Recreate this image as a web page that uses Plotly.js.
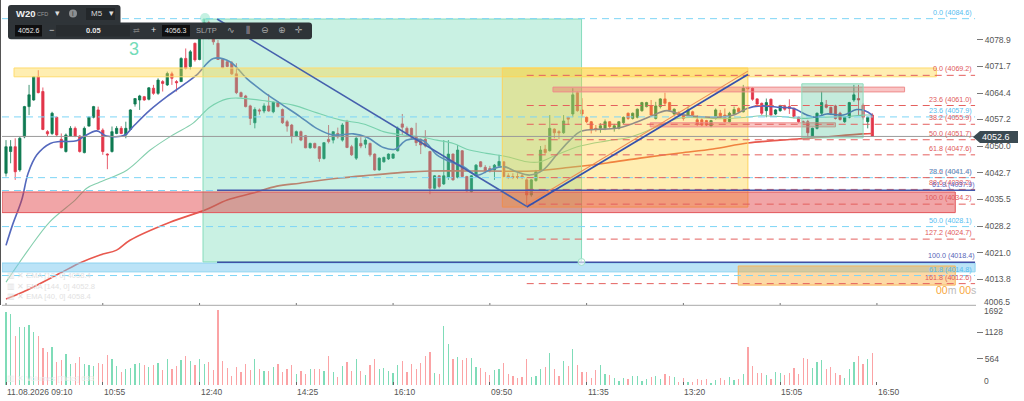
<!DOCTYPE html>
<html><head><meta charset="utf-8">
<script src="https://cdn.plot.ly/plotly-3.0.1.min.js"></script>
<style>html,body{margin:0;padding:0;background:#fff}#c{width:1024px;height:401px}</style></head>
<body><div id="c"></div>
<script>
const open_=[4042.6,4048.5,4049.8,4043.5,4052.5,4060.7,4062.5,4068.8,4064.8,4053.9,
4053.4,4057.8,4051.8,4048.5,4052.7,4054.8,4052.7,4048.2,4055.4,4057.8,
4059.8,4054.3,4047.8,4048.5,4053.4,4054.8,4053.0,4054.5,4061.4,4062.5,
4063.4,4062.7,4065.7,4064.3,4067.5,4066.6,4069.6,4067.5,4067.5,4073.8,
4071.6,4077.9,4073.5,4082.0,4083.5,4079.3,4077.9,4073.5,4072.9,4072.6,
4069.6,4064.5,4063.6,4060.9,4056.3,4059.8,4059.5,4060.9,4059.3,4061.9,
4059.9,4056.6,4055.7,4052.7,4053.9,4052.8,4049.5,4050.7,4049.8,4046.6,
4051.8,4051.6,4053.4,4051.6,4056.6,4049.8,4046.7,4050.7,4050.5,4050.7,
4047.8,4043.5,4045.7,4046.5,4046.7,4048.7,4056.0,4054.8,4054.8,4052.4,
4051.8,4051.8,4048.5,4038.5,4041.9,4039.7,4041.5,4047.8,4041.5,4048.7,
4041.7,4037.6,4041.9,4045.7,4044.2,4043.9,4043.5,4044.6,4045.7,4041.9,
4041.7,4041.7,4041.9,4040.8,4036.7,4040.6,4043.5,4049.1,4048.7,4054.6,
4053.9,4053.6,4057.8,4058.7,4064.5,4059.8,4057.8,4056.6,4054.8,4054.8,
4054.8,4056.6,4054.8,4054.8,4056.3,4058.9,4057.5,4057.8,4059.6,4060.7,
4060.9,4057.5,4060.7,4062.8,4061.8,4058.7,4059.0,4058.4,4058.4,4059.3,
4057.1,4057.1,4056.9,4055.4,4057.5,4058.9,4058.4,4056.6,4058.7,4060.2,
4059.3,4065.9,4065.7,4062.8,4061.6,4059.6,4062.7,4058.7,4059.6,4060.7,
4060.7,4060.2,4057.8,4056.6,4056.6,4052.4,4054.8,4058.9,4061.2,4060.5,
4060.9,4058.9,4056.6,4057.8,4062.5,4062.9,4061.1,4056.6,4058.4];
const high_=[4051.6,4051.6,4052.1,4052.5,4060.9,4066.6,4069.0,4070.6,4065.9,4054.3,
4059.3,4058.0,4053.4,4053.4,4055.4,4055.3,4053.0,4055.3,4058.0,4060.9,
4060.7,4054.8,4048.0,4055.3,4055.4,4055.4,4056.6,4060.0,4062.9,4063.9,
4063.6,4066.0,4066.6,4068.4,4067.9,4070.2,4070.2,4067.9,4074.1,4076.5,
4076.1,4078.1,4083.3,4084.5,4084.0,4080.0,4078.8,4073.8,4073.4,4073.1,
4072.5,4064.8,4063.9,4061.2,4060.5,4060.2,4061.6,4064.1,4062.0,4062.2,
4060.2,4057.1,4056.0,4054.2,4054.2,4053.0,4050.9,4050.9,4050.0,4051.0,
4055.7,4053.9,4055.0,4056.2,4057.1,4050.3,4052.4,4052.4,4052.1,4050.9,
4048.0,4046.9,4047.1,4048.0,4048.0,4055.3,4058.7,4055.3,4055.0,4056.3,
4052.1,4054.3,4048.7,4042.1,4042.1,4051.6,4051.6,4048.0,4050.3,4048.9,
4041.9,4042.1,4045.1,4045.9,4044.8,4044.6,4045.1,4047.6,4045.8,4042.6,
4042.6,4042.6,4042.6,4041.2,4041.0,4043.5,4050.0,4050.3,4058.4,4054.8,
4054.3,4058.4,4058.0,4065.7,4064.8,4063.0,4058.0,4056.8,4055.7,4056.2,
4057.2,4056.8,4056.0,4056.8,4058.0,4059.1,4059.1,4060.2,4062.0,4062.0,
4062.5,4062.0,4063.0,4064.5,4062.0,4060.2,4059.4,4058.9,4060.7,4059.6,
4058.4,4057.5,4057.1,4057.1,4060.2,4059.8,4060.2,4059.3,4060.7,4060.5,
4066.6,4066.2,4065.9,4063.0,4061.8,4062.9,4062.9,4060.0,4061.2,4061.2,
4062.7,4060.5,4058.0,4056.9,4057.1,4055.0,4059.1,4064.8,4062.5,4060.7,
4061.2,4059.3,4058.0,4062.0,4066.6,4066.6,4061.6,4058.0,4058.9];
const low_=[4041.7,4045.3,4040.8,4043.0,4052.1,4058.4,4062.3,4064.3,4054.3,4052.7,
4053.0,4052.5,4049.4,4048.2,4052.5,4052.4,4048.2,4048.0,4055.3,4057.5,
4054.3,4047.6,4043.7,4048.2,4053.2,4053.2,4052.1,4054.3,4060.7,4059.8,
4062.3,4062.4,4063.9,4063.9,4064.8,4066.3,4066.6,4064.8,4067.5,4070.8,
4070.8,4072.9,4073.3,4081.0,4079.0,4077.5,4073.4,4071.1,4071.4,4069.3,
4064.1,4063.2,4060.5,4055.7,4054.8,4058.5,4058.9,4059.3,4058.9,4060.5,
4056.0,4053.9,4050.7,4052.4,4051.3,4049.4,4049.3,4049.3,4045.7,4046.3,
4050.7,4050.7,4052.0,4051.2,4049.4,4047.3,4046.2,4049.4,4049.4,4047.1,
4043.3,4043.3,4045.5,4046.2,4046.5,4048.5,4053.0,4052.7,4051.8,4050.0,
4047.8,4049.6,4036.9,4038.2,4038.5,4039.4,4040.8,4040.6,4041.2,4041.5,
4037.6,4037.4,4041.7,4044.2,4042.6,4042.8,4040.8,4044.2,4041.5,4041.0,
4041.0,4041.0,4041.0,4034.0,4036.2,4040.3,4043.2,4047.8,4048.5,4052.1,
4051.8,4053.3,4055.7,4057.8,4059.3,4057.8,4056.2,4053.4,4053.9,4053.6,
4054.3,4054.8,4053.9,4054.5,4056.0,4057.1,4057.2,4057.5,4059.3,4060.5,
4058.2,4057.2,4060.2,4061.1,4059.6,4058.4,4058.0,4056.9,4058.1,4058.1,
4055.4,4055.4,4055.4,4055.1,4057.2,4057.5,4056.3,4056.3,4058.4,4058.9,
4059.1,4065.3,4062.3,4061.2,4058.4,4057.8,4058.1,4058.4,4059.3,4059.6,
4058.7,4057.5,4056.2,4056.2,4052.1,4052.1,4054.5,4058.4,4060.2,4058.4,
4057.2,4056.9,4056.3,4057.5,4062.0,4058.4,4057.2,4054.8,4052.6];
const close_=[4049.8,4049.8,4043.0,4052.1,4060.7,4063.9,4068.8,4064.5,4054.5,4053.3,
4058.9,4053.0,4049.5,4053.0,4054.8,4052.7,4048.5,4054.8,4057.8,4060.7,
4054.5,4048.5,4047.6,4053.9,4054.8,4053.4,4054.8,4059.8,4062.9,4063.6,
4062.5,4065.8,4064.3,4067.9,4067.0,4069.7,4068.4,4067.2,4073.8,4071.1,
4075.6,4073.4,4082.1,4083.5,4079.5,4078.3,4073.5,4071.3,4071.6,4069.6,
4064.5,4063.4,4060.7,4057.5,4059.9,4059.5,4060.9,4059.5,4061.9,4060.7,
4056.3,4055.4,4052.7,4053.9,4051.6,4049.5,4050.7,4049.5,4046.6,4050.9,
4051.2,4053.9,4052.5,4055.7,4049.6,4047.6,4052.1,4050.0,4051.6,4047.6,
4043.5,4046.7,4046.9,4047.8,4047.8,4054.8,4055.1,4053.4,4052.4,4050.9,
4050.3,4050.0,4038.5,4041.9,4039.0,4041.9,4047.8,4040.8,4048.9,4041.7,
4037.8,4041.9,4044.8,4044.4,4043.3,4043.3,4044.8,4045.8,4041.7,4041.5,
4041.5,4041.5,4041.5,4036.7,4040.8,4043.0,4048.9,4048.2,4054.8,4053.6,
4053.6,4056.8,4057.3,4063.9,4059.6,4058.7,4056.6,4054.5,4054.5,4055.5,
4056.6,4055.3,4055.5,4056.6,4057.8,4057.5,4058.9,4060.0,4061.8,4061.8,
4058.4,4060.9,4062.8,4061.6,4059.8,4060.0,4058.4,4057.5,4059.8,4058.4,
4056.0,4055.7,4055.7,4056.9,4059.8,4058.2,4056.6,4058.9,4059.9,4059.3,
4065.7,4065.6,4062.7,4061.4,4058.9,4061.8,4058.4,4059.8,4060.9,4060.0,
4060.2,4058.0,4056.6,4056.4,4053.6,4054.8,4058.9,4061.8,4060.5,4058.9,
4057.5,4057.2,4057.8,4061.8,4063.9,4062.5,4057.8,4057.8,4052.6];
const volume_=[1559,1516,1051,1251,1251,1287,1144,1051,787,715,
808,500,536,665,443,465,608,450,422,415,
465,450,643,565,408,286,336,358,443,465,
436,393,436,465,322,565,350,408,536,622,
522,429,565,458,486,322,1609,515,372,193,
379,286,443,322,550,350,300,300,393,443,
272,336,422,229,300,243,350,350,350,300,
629,272,179,415,493,307,550,307,222,429,
565,350,372,307,257,429,508,279,443,343,
472,629,700,265,236,1273,887,565,593,536,
579,579,379,365,286,214,315,336,479,229,
200,150,164,550,179,200,350,386,693,350,
200,508,400,779,436,286,279,150,322,429,
243,214,150,93,150,136,200,200,93,122,
172,200,136,243,200,179,64,150,72,57,
122,107,136,36,107,150,107,172,107,122,
243,815,408,265,265,222,122,279,265,214,
265,372,229,579,550,372,493,543,336,393,
250,207,150,350,493,629,458,565,693];

const emaFastX=[0,1.4,3.4,4.8,6.7,9.6,11.7,15.3,16.8,19.7,21.8,25.8,27.6,31.3,34.9,38.5,41.4,45,48.6,52.2,55.8,59.5,63.8,67.4,71,75.4,78.3,81.9,84.4,87,90.6,93.5,96.4,99.3,102.2,105,108,110.8,113.7,116.6,119.5,122.4,124.6,127.5,132.5,136.2,139.8,143.4,146.3,149.9,154.3,157.9,160.8,163.7,168,170.9,173.8,175.6,178.1,181.7,184.6,186.4,188];
const emaFast=[4023.0,4028.5,4035.3,4042.6,4047.6,4050.7,4051.2,4051.4,4052.5,4054.1,4052.7,4053.0,4055.3,4059.8,4063.4,4066.6,4069.3,4073.8,4072.9,4068.4,4064.8,4061.6,4058.0,4054.8,4053.0,4053.3,4052.4,4049.6,4049.1,4051.6,4051.4,4047.6,4045.7,4044.4,4042.1,4043.5,4044.4,4043.0,4042.1,4043.5,4047.6,4051.6,4053.9,4054.5,4054.8,4056.2,4058.0,4059.6,4058.6,4058.0,4057.8,4058.4,4060.2,4060.9,4060.5,4060.2,4058.4,4057.8,4058.7,4058.4,4059.9,4059.6,4058.4];
const emaMidX=[0,4.8,9.5,15,17.6,20.4,26.3,31.3,36.2,40.6,44.3,48,50.8,56.6,62.3,67.5,72.5,77.6,81.9,86.2,89.9,93.5,97.1,100,104.3,108.7,113,115.9,119.5,124.6,130.4,135.4,140.5,146.3,155,160.8,163.7,168,173,176,182.5,186,188];
const emaMid=[4013.0,4021.7,4029.4,4035.3,4038.6,4040.2,4043.5,4048.9,4053.0,4056.2,4060.6,4062.8,4063.0,4062.2,4061.1,4059.0,4057.1,4056.0,4053.9,4053.0,4052.5,4051.6,4050.7,4049.1,4048.0,4047.1,4045.7,4045.7,4047.6,4050.0,4051.4,4052.4,4054.8,4057.6,4057.4,4057.8,4058.2,4058.0,4057.5,4057.8,4058.0,4058.4,4058.4];
const emaSlowX=[0,3.7,11.7,16,20.4,24,26.9,35.6,43.2,48,53.6,58.8,63.8,72.5,79.6,87,92,105,114.4,123,130.4,137.6,146.3,153.4,161,168,175,186,188];
const emaSlow=[4008.4,4010.3,4015.4,4018.2,4020.4,4021.7,4024.4,4029.3,4032.6,4035.3,4037.2,4039.1,4039.9,4041.3,4042.1,4042.9,4043.2,4043.2,4043.2,4044.3,4045.4,4046.7,4048.1,4049.2,4050.8,4051.6,4052.2,4053.3,4053.4];

const lastPrice=4052.6;
const priceTicks=[4078.9,4071.7,4064.4,4057.2,4050.0,4042.7,4035.5,4028.2,4021.0,4013.8];
const volTicks=[564,1128];
const timeIdx=[0,21,42,63,84,105,126,147,168,189];
const timeLabels=["11.08.2026 09:10","10:55","12:40","14:25","16:10","09:50","11:35","13:20","15:05","16:50"];
const redFibNames=["0.0","23.6","38.2","50.0","61.8","78.6","88.6","100.0","127.2","161.8"];
const redFibLevels=[4069.2,4061.0,4055.9,4051.7,4047.6,4041.4,4038.2,4034.2,4024.7,4012.6];
const blueFibNames=["0.0","23.6","38.2","61.8","50.0","61.8"];
const blueFibLevels=[4084.6,4057.9,4041.4,4037.9,4028.1,4014.8];
const swingX=[45.8,113,161];
const swingY=[4084.5,4033.6,4069.6];

// pixel helpers for chrome (plot area: x 2..976, y 0..385)
const X=p=>(p-2)/974, Y=p=>1-p/385;
const xs=open_.map((_,i)=>i);
const UP='#0f7a52', DOWN='#e2364a';
const volColors=open_.map((o,i)=>close_[i]>=o?'#7fdcb8':'#fba3a5');

const traces=[
 {type:'scatter',mode:'lines',x:emaSlowX,y:emaSlow,line:{color:'#e8584e',width:1.6,shape:'spline'},hoverinfo:'skip',xaxis:'x',yaxis:'y'},
 {type:'scatter',mode:'lines',x:emaMidX,y:emaMid,line:{color:'#85cfae',width:1.1,shape:'spline'},hoverinfo:'skip',xaxis:'x',yaxis:'y'},
 {type:'scatter',mode:'lines',x:emaFastX,y:emaFast,line:{color:'#5468bd',width:1.6,shape:'spline'},hoverinfo:'skip',xaxis:'x',yaxis:'y'},
 {type:'candlestick',x:xs,open:open_,high:high_,low:low_,close:close_,xaxis:'x',yaxis:'y',width:0.66,whiskerwidth:0,
  increasing:{line:{color:UP,width:0.8},fillcolor:UP},decreasing:{line:{color:DOWN,width:0.8},fillcolor:DOWN},hoverinfo:'skip'},
 {type:'bar',x:xs,y:volume_,width:0.27,marker:{color:volColors,line:{width:0}},xaxis:'x',yaxis:'y2',hoverinfo:'skip'}
];

const shapes=[];
const rect=(x0,x1,y0,y1,fill,line,w)=>shapes.push({type:'rect',xref:'x',yref:'y',x0,x1,y0,y1,fillcolor:fill,line:{color:line,width:w===undefined?1:w},layer:'above'});
const hl=(x0,x1,y,color,dash,w)=>shapes.push({type:'line',xref:'x',yref:'y',x0,x1,y0:y,y1:y,line:{color,width:w||1,dash:dash||'solid'},layer:'above'});
const seg=(x0,y0,x1,y1,color,w)=>shapes.push({type:'line',xref:'x',yref:'y',x0,x1,y0,y1,line:{color,width:w},layer:'above'});
const prect=(a,b,c,d,fill,line)=>shapes.push({type:'rect',xref:'paper',yref:'paper',x0:X(a),x1:X(b),y0:Y(d),y1:Y(c),fillcolor:fill,line:{color:line||'rgba(0,0,0,0)',width:line?1:0},layer:'above'});
const rr=(a,b,c,d,r)=>`M${X(a+r)},${Y(c)} L${X(b-r)},${Y(c)} Q${X(b)},${Y(c)} ${X(b)},${Y(c+r)} L${X(b)},${Y(d-r)} Q${X(b)},${Y(d)} ${X(b-r)},${Y(d)} L${X(a+r)},${Y(d)} Q${X(a)},${Y(d)} ${X(a)},${Y(d-r)} L${X(a)},${Y(c+r)} Q${X(a)},${Y(c)} ${X(a+r)},${Y(c)} Z`;
const ppath=(path,fill)=>shapes.push({type:'path',xref:'paper',yref:'paper',path,fillcolor:fill,line:{width:0},layer:'above'});

// zones
rect(-0.87,210.3,4015.8,4018.2,'rgba(120,200,240,0.5)','#8dd3f0');
rect(42.75,124.9,4018.5,4084.5,'rgba(101,215,175,0.35)','#86dcbc');
rect(1.74,201.9,4068.8,4071.2,'rgba(255,215,70,0.42)','#ffdc6e');
rect(107.7,161,4033.4,4071.2,'rgba(255,205,40,0.36)','#ffd35c');
rect(-0.87,206,4031.9,4037.5,'rgba(222,50,55,0.44)','#e2555a');
rect(158.9,206,4012.2,4017.4,'rgba(250,165,40,0.42)','#f7b659');
rect(118.7,195,4064.7,4066.0,'rgba(238,90,90,0.35)','#ee8d8d');
rect(139.8,180,4055.2,4056.3,'rgba(238,90,90,0.35)','#ee8d8d');
rect(172.7,186,4052.2,4066.9,'rgba(60,190,140,0.3)','#8fdcbc');
// fib lines
blueFibLevels.forEach(v=>hl(-0.87,210.3,v,'#7dd5f6','7px,5px'));
redFibLevels.forEach(v=>hl(113,210.3,v,'#e4605e','7px,5px'));
hl(45.8,210.3,4038.0,'#4458ac','solid',1.5);
hl(45.8,210.3,4018.4,'#3f4fa5','solid',1.5);
hl(-0.87,210.3,lastPrice,'#9a9a9a','solid',1);
// swing lines
seg(swingX[1],swingY[1]+0.55,swingX[2],swingY[2]+0.75,'#f08a55',1.1);
seg(swingX[1],swingY[1]-0.15,swingX[2],swingY[2]-0.2,'#3450ad',1.7);
seg(swingX[0],swingY[0],swingX[1],swingY[1],'#4560ad',1.6);
// handles
shapes.push({type:'circle',xref:'paper',yref:'paper',x0:X(200),x1:X(210),y0:Y(23),y1:Y(13),fillcolor:'rgba(125,225,190,0.45)',line:{width:0},layer:'above'});
shapes.push({type:'circle',xref:'paper',yref:'paper',x0:X(578),x1:X(585),y0:Y(265.5),y1:Y(258.5),fillcolor:'rgba(255,255,255,0.6)',line:{color:'#9fe2c8',width:1},layer:'above'});
// separator, frame & time ticks
shapes.push({type:'line',xref:'paper',yref:'paper',x0:0,x1:1,y0:Y(305.3),y1:Y(305.3),line:{color:'#a8a8a8',width:1},layer:'above'});
shapes.push({type:'line',xref:'paper',yref:'paper',x0:X(0.5),x1:X(0.5),y0:Y(0),y1:Y(305),line:{color:'#555',width:1},layer:'above'});
timeIdx.forEach(t=>shapes.push({type:'line',xref:'x',yref:'paper',x0:t,x1:t,y0:Y(305),y1:Y(303),line:{color:'#777',width:1},layer:'above'}));
// toolbar
ppath(rr(8,120.5,5,30,3),'#2f3438');
ppath(rr(8,312,22.5,39.3,3),'#2f3438');
prect(86,115,8,20,'#23272a');
prect(15,42,25,36.5,'#0f0f10');
prect(162,190,25,36.5,'#0f0f10');
prect(56,130,25,36.5,'#282c2f');
shapes.push({type:'circle',xref:'paper',yref:'paper',x0:X(69),x1:X(77),y0:Y(17.5),y1:Y(9.5),fillcolor:'#8c8f91',line:{width:0},layer:'above'});
// price tag
ppath(`M${X(973)},${Y(137)} L${X(980)},${Y(131)} L${X(1018)},${Y(131)} L${X(1018)},${Y(143)} L${X(980)},${Y(143)} Z`,'#3b4a52');

const F='"Liberation Sans",Arial,sans-serif';
const ann=[];
const ptxt=(px,py,text,size,color,anchor,extra)=>ann.push(Object.assign({xref:'paper',yref:'paper',x:X(px),y:Y(py),text,showarrow:false,font:{family:F,size,color},xanchor:anchor||'left',yanchor:'middle',borderpad:0,captureevents:false},extra||{}));
const fibTxt=(v,name,color,right)=>ann.push({xref:'paper',yref:'y',x:X(right),y:v,yshift:6.5,text:`${name} (${v.toFixed(1)})`,showarrow:false,font:{family:F,size:7.2,color},xanchor:'right',yanchor:'middle',borderpad:0});
redFibLevels.forEach((v,i)=>fibTxt(v,redFibNames[i],'#e0585a',973));
blueFibLevels.forEach((v,i)=>fibTxt(v,blueFibNames[i],i==3?'#5e6cc8':'#56bdf0',i==3?976:973));
fibTxt(4018.4,'100.0','#5866b8',976);
timeIdx.forEach((t,i)=>ann.push({xref:'x',yref:'paper',x:t,y:Y(391.5),text:timeLabels[i],showarrow:false,font:{family:F,size:8.5,color:'#555'},xanchor:'left',yanchor:'middle',borderpad:0}));
ptxt(983,302,'4006.5',8.5,'#555');
ptxt(983,310.5,'1692',8.5,'#555');
ptxt(983,380.5,'0',8.5,'#555');
ptxt(134,49.5,'3',18,'#72dcb8','center');
ptxt(977,290,'<span style="color:#f7a83c">00</span><span style="color:#bbb">m</span> <span style="color:#f7a83c">00</span><span style="color:#bbb">s</span>',10.5,'#bbb','right');
ptxt(996,137,lastPrice.toFixed(1),9,'#fff','center');
ptxt(6,275.5,'▥ ✕ EMA [12, 0] 4058.4',7.6,'#e2e2e2');
ptxt(6,286,'▥ ✕ EMA [144, 0] 4052.8',7.6,'#e2e2e2');
ptxt(6,296,'▥ ✕ EMA [40, 0] 4058.4',7.6,'#e2e2e2');
ptxt(6,378,'▥ ✕ Volumes [Ticks] 693',7.6,'#ededed');
// toolbar text
ptxt(15,13.5,'<b>W20</b>',9.5,'#f2f2f2');
ptxt(36,14,'CFD',5.5,'#9a9a9a');
ptxt(57,13,'▾',9,'#ddd','center');
ptxt(73,13.5,'i',7,'#2f3438','center');
ptxt(90,13.5,'M5',8,'#d8d8d8');
ptxt(111,13,'▾',9,'#ddd','center');
ptxt(28.5,30.5,'4052.6',7,'#e6e6e6','center');
ptxt(51,30.5,'−',9,'#ddd','center');
ptxt(93,30.5,'<b>0.05</b>',7.5,'#e6e6e6','center');
ptxt(136,30.5,'⇄',8,'#777','center');
ptxt(153,30.5,'+',9,'#e6e6e6','center');
ptxt(176,30.5,'4056.3',7,'#e6e6e6','center');
ptxt(206,30.5,'SL/TP',7.5,'#a8a8a8','center');
const dj='"DejaVu Sans",sans-serif';
[[231,'∿'],[248,'⫼'],[265,'⊖'],[282,'⊕'],[299,'✛']].forEach(([x,t])=>{ptxt(x,30.5,t,9,'#a8a8a8','center');ann[ann.length-1].font.family=dj;});

const layout={width:1024,height:401,paper_bgcolor:'#fff',plot_bgcolor:'#fff',showlegend:false,
 margin:{l:2,r:48,t:0,b:16,pad:0},bargap:0,
 xaxis:{domain:[0,1],anchor:'y2',range:[-0.87,210.5],tickmode:'array',tickvals:timeIdx,ticktext:timeLabels.map(()=>''),ticks:'inside',ticklen:3,tickcolor:'#666',tickwidth:1,showgrid:false,zeroline:false,showline:false,rangeslider:{visible:false},fixedrange:true},
 yaxis:{domain:[79.5/385,1],anchor:'x',side:'right',range:[4006.66,4089.67],tickmode:'array',tickvals:priceTicks,ticktext:priceTicks.map(v=>v.toFixed(1)),ticks:'outside',ticklen:6,tickcolor:'#777',tickwidth:1,tickfont:{family:F,size:8.5,color:'#555'},showgrid:false,zeroline:false,showline:false,fixedrange:true},
 yaxis2:{domain:[0,79.5/385],anchor:'x',side:'right',range:[0,1706],tickmode:'array',tickvals:volTicks,ticktext:volTicks.map(String),ticks:'outside',ticklen:6,tickcolor:'#777',tickwidth:1,tickfont:{family:F,size:8.5,color:'#555'},showgrid:false,zeroline:false,showline:false,fixedrange:true},
 shapes,annotations:ann};
Plotly.newPlot('c',traces,layout,{staticPlot:true,displayModeBar:false});
</script></body></html>
